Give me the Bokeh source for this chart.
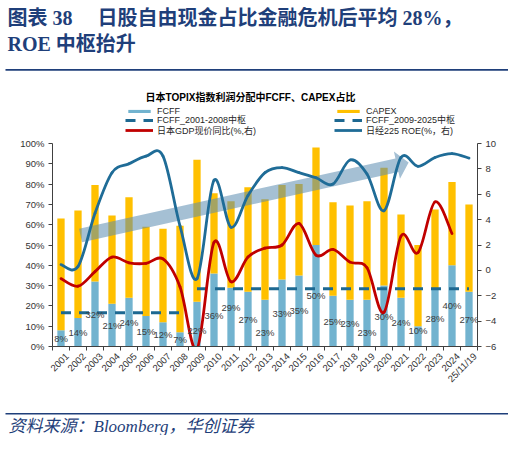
import math
import numpy as np
from bokeh.plotting import figure
from bokeh.layouts import column
from bokeh.models import (Range1d, LinearAxis, FixedTicker, PrintfTickFormatter, Label,
                          Legend, LegendItem, BoxAnnotation, ColumnDataSource)
from bokeh.core.properties import value
from bokeh.embed import file_html
from bokeh.resources import INLINE

# ---------------- data ----------------
YEARS = ["2001", "2002", "2003", "2004", "2005", "2006", "2007", "2008", "2009", "2010",
         "2011", "2012", "2013", "2014", "2015", "2016", "2017", "2018", "2019", "2020",
         "2021", "2022", "2023", "2024", "25/11/19"]
FCFF = [8, 14, 32, 21, 24, 15, 12, 7, 22, 36, 29, 27, 23, 33, 35, 50, 25, 23, 23, 30,
        24, 10, 28, 40, 27]
CAPEX = [55, 53, 47.5, 43.5, 49.5, 44, 46, 52.5, 70, 39.5, 42.5, 51.5, 49.5, 46.5, 45,
         48, 46, 46.5, 48.5, 58, 41, 40, 39.5, 41, 43]
GDP = [-0.65, -1.25, -0.1, 1.05, 0.6, 0.55, 0.9, -1.3, -6.2, 2.2, -0.9, 1.05, 1.75, 2.0,
       3.7, 1.2, 1.65, 0.65, 0.2, -3.3, 2.7, 1.4, 5.4, 2.9]
ROE = [0.45, 0.3, 4.5, 7.7, 8.4, 9.0, 9.0, 3.5, -0.65, 7.1, 3.4, 5.9, 7.7, 8.1, 7.7, 7.3,
       6.8, 8.7, 7.6, 4.7, 8.9, 8.2, 8.9, 9.2, 8.85]
FCFF_MEAN_2001_2008 = 16.6
FCFF_MEAN_2009_2025 = 28.5
LEFT_TICKS = list(range(0, 101, 10))
RIGHT_TICKS = list(range(-6, 11, 2))

TITLE_1 = "图表 38\u3000 日股自由现金占比金融危机后平均 28%，"
TITLE_2 = "ROE 中枢抬升"
CHART_TITLE = "日本TOPIX指数利润分配中FCFF、CAPEX占比"
SOURCE = "资料来源：Bloomberg，华创证券"
LEG_ROWS = [("FCFF", "CAPEX"),
            ("FCFF_2001-2008中枢", "FCFF_2009-2025中枢"),
            ("日本GDP现价同比(%,右)", "日经225 ROE(%，右)")]

# label nudges in pixels (downwards positive)
LABEL_DY = [0, 0, 0, 0, 0, 0, 0, 0, 6, 6, -10, 0, 9, 0, 0, 0, 0, 0, 9, 0, 0, -6, 0, 0, 0]

# ---------------- styles ----------------
BLUE_BAR = "#72B3CF"
YELLOW = "#FFC000"
RED = "#C00000"
ROE_BLUE = "#1F6C97"
DASH_BLUE = "#1D6891"
NAVY = "#1F3F7A"
AXIS = "#404040"
SANS = "Liberation Sans, Noto Sans CJK SC"
SERIF = "Liberation Serif, Noto Sans CJK SC"
W = 508
FL, FR = 52, 477          # main frame left / right on the page
H_HEAD, H_MAIN, H_FOOT = 137, 268, 30

n = len(YEARS)
xs = list(range(n))


def blank(height, y0):
    f = figure(width=W, height=height, output_backend="svg", toolbar_location=None,
               x_range=Range1d(0, W), y_range=Range1d(y0 + height, y0),
               x_axis_type=None, y_axis_type=None, outline_line_color=None,
               min_border=0, min_border_left=0, min_border_right=0,
               min_border_top=0, min_border_bottom=0, frame_align=False,
               background_fill_color="white", border_fill_color="white")
    f.xgrid.visible = False
    f.ygrid.visible = False
    return f


def lab(f, text, x, y, size, color, font, style="normal", align="left"):
    f.add_layout(Label(text=text, x=x, y=y, text_font=font, text_font_size=size,
                       text_font_style=style, text_color=color, text_align=align,
                       text_baseline="middle"))


# ---------------- header ----------------
head = blank(H_HEAD, 0)
lab(head, TITLE_1, 7, 17, "20px", NAVY, SERIF, "bold")
lab(head, TITLE_2, 7, 43, "20px", NAVY, SERIF, "bold")
head.add_layout(BoxAnnotation(left=5, right=W, top=68.6, bottom=70.2, fill_color=NAVY,
                              fill_alpha=1, line_color=None))
lab(head, CHART_TITLE, 250, 97, "10px", "#000000", SANS, "bold", "center")

NAN = np.array([np.nan])
proxies = [
    (head.vbar(x=NAN, top=NAN, width=1, fill_color=BLUE_BAR, line_color=None),
     head.vbar(x=NAN, top=NAN, width=1, fill_color=YELLOW, line_color=None)),
    (head.line(x=NAN, y=NAN, line_color=DASH_BLUE, line_width=3, line_dash="10 8"),
     head.line(x=NAN, y=NAN, line_color=DASH_BLUE, line_width=3, line_dash="10 8")),
    (head.line(x=NAN, y=NAN, line_color=RED, line_width=2.8),
     head.line(x=NAN, y=NAN, line_color=ROE_BLUE, line_width=2.8)),
]
ROW_C = [110.7, 121.3, 131.7]   # legend row centres on the page
for (t1, t2), (r1, r2), c in zip(LEG_ROWS, proxies, ROW_C):
    head.add_layout(Legend(
        items=[LegendItem(label=t1, renderers=[r1]), LegendItem(label=t2, renderers=[r2])],
        orientation="horizontal", location=(125, H_HEAD - (c + 5)),
        glyph_width=28, glyph_height=4, label_standoff=4, spacing=7, label_width=170,
        label_height=10, padding=0, margin=0, border_line_color=None,
        background_fill_alpha=0, label_text_line_height=1.0,
        label_text_font=SANS, label_text_font_size="9px", label_text_color="#262626"))

# ---------------- main chart ----------------
p = figure(width=W, height=H_MAIN, output_backend="svg", toolbar_location=None,
           x_range=Range1d(-0.5, n - 0.5), y_range=Range1d(0, 100),
           min_border_left=FL, min_border_right=W - FR, min_border_top=6,
           min_border_bottom=H_MAIN - 6 - 203, frame_align=False,
           outline_line_color=None, background_fill_color="white", border_fill_color="white")
p.extra_y_ranges = {"r": Range1d(-6, 10)}
p.xgrid.visible = False
p.ygrid.visible = False

src = ColumnDataSource(dict(x=xs, fcff=FCFF, capex=CAPEX,
                            ymid=[v / 2 for v in FCFF],
                            lbl=[f"{v}%" for v in FCFF], dy=LABEL_DY))
p.vbar_stack(["fcff", "capex"], x="x", width=0.43, source=src,
             fill_color=[BLUE_BAR, YELLOW], line_color=None)

# arrow (decoration) from ~2002 to ~2020 in data units
A_X0, A_Y0, A_X1, A_Y1 = 1.15, 54.7, 20.45, 90.6
SX, SY = 17.0, 2.03  # px per unit
dx, dy = (A_X1 - A_X0) * SX, (A_Y1 - A_Y0) * SY
L = math.hypot(dx, dy)
ux, uy = dx / L, dy / L
nx, ny = -uy, ux
w, hw, hl = 6.9, 14.0, 12.0
bx, by = dx - ux * hl, dy - uy * hl
pts = [(nx * w, ny * w), (bx + nx * w, by + ny * w), (bx + nx * hw, by + ny * hw), (dx, dy),
       (bx - nx * hw, by - ny * hw), (bx - nx * w, by - ny * w), (-nx * w, -ny * w)]
p.patch([A_X0 + px / SX for px, py in pts], [A_Y0 + py / SY for px, py in pts],
        fill_color="#5B8DB0", fill_alpha=0.55, line_color=None)

p.line([0, 7], [FCFF_MEAN_2001_2008] * 2, line_color=DASH_BLUE, line_width=3, line_dash="10 8")
p.line([8, n - 1], [FCFF_MEAN_2009_2025] * 2, line_color=DASH_BLUE, line_width=3,
       line_dash="10 8")


def smooth(xv, yv):
    m = len(xv)
    out = dict(x0=[], y0=[], x1=[], y1=[], cx0=[], cy0=[], cx1=[], cy1=[])
    for i in range(m - 1):
        xa, ya, xb, yb = xv[i], yv[i], xv[i + 1], yv[i + 1]
        xp, yp = (xv[i - 1], yv[i - 1]) if i > 0 else (xa, ya)
        xn, yn = (xv[i + 2], yv[i + 2]) if i + 2 < m else (xb, yb)
        out["x0"].append(xa); out["y0"].append(ya)
        out["x1"].append(xb); out["y1"].append(yb)
        out["cx0"].append(xa + (xb - xp) / 6); out["cy0"].append(ya + (yb - yp) / 6)
        out["cx1"].append(xb - (xn - xa) / 6); out["cy1"].append(yb - (yn - ya) / 6)
    return ColumnDataSource(out)


bz = dict(x0="x0", y0="y0", x1="x1", y1="y1", cx0="cx0", cy0="cy0", cx1="cx1", cy1="cy1",
          y_range_name="r", line_width=2.8, line_cap="round")
p.bezier(source=smooth(xs, ROE), line_color=ROE_BLUE, **bz)
p.bezier(source=smooth(xs[:len(GDP)], GDP), line_color=RED, **bz)

p.text(x="x", y="ymid", text="lbl", source=src, text_align="center", text_baseline="middle",
       text_font=value("Liberation Sans"), text_font_size="9.5px", text_color="#404040",
       y_offset="dy")

xa = p.xaxis[0]
LBL_POS = [round(i + 0.35, 2) for i in xs]
xa.ticker = FixedTicker(ticks=LBL_POS, minor_ticks=[x - 0.5 for x in xs] + [n - 0.5])
xa.major_label_overrides = {LBL_POS[i]: YEARS[i] for i in xs}
xa.major_label_orientation = math.pi / 4
xa.major_tick_line_color = None
xa.minor_tick_line_color = AXIS
xa.minor_tick_in = 0
xa.minor_tick_out = 4

ya = p.yaxis[0]
ya.ticker = FixedTicker(ticks=LEFT_TICKS)
ya.formatter = PrintfTickFormatter(format="%d%%")
ya.minor_tick_line_color = None

ra = LinearAxis(y_range_name="r", ticker=FixedTicker(ticks=RIGHT_TICKS))
ra.minor_tick_line_color = None
p.add_layout(ra, "right")

for ax in (xa, ya, ra):
    ax.axis_line_color = AXIS
    ax.major_tick_in = 0
    ax.major_tick_out = 4
    ax.major_label_text_font = SANS
    ax.major_label_text_font_size = "9.5px"
    ax.major_label_text_color = "#333333"
    ax.major_label_standoff = 4
    if ax is not xa:
        ax.major_tick_line_color = AXIS

# ---------------- footer ----------------
foot = blank(H_FOOT, H_HEAD + H_MAIN)
foot.add_layout(BoxAnnotation(left=5, right=W, top=412.4, bottom=414, fill_color=NAVY,
                              fill_alpha=1, line_color=None))
lab(foot, SOURCE, 8, 425.5, "17px", NAVY, SERIF, "italic")

layout = column(head, p, foot, spacing=0)
open("out.html", "w").write(file_html(layout, INLINE))
